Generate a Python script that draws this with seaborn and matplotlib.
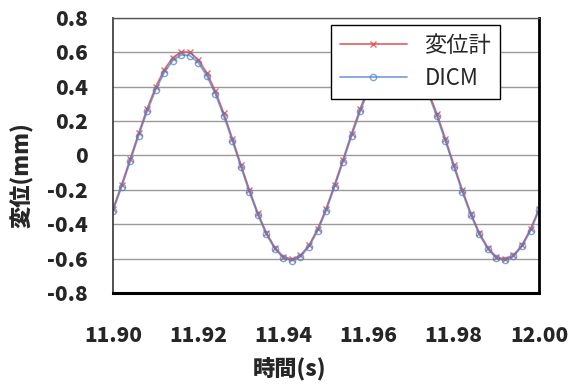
import numpy as np
import pandas as pd
import matplotlib
matplotlib.use('Agg')
import matplotlib.pyplot as plt
import seaborn as sns

# time axis, sampled every 2 ms
time = [11.900, 11.902, 11.904, 11.906, 11.908, 11.910, 11.912, 11.914, 11.916, 11.918,
        11.920, 11.922, 11.924, 11.926, 11.928, 11.930, 11.932, 11.934, 11.936, 11.938,
        11.940, 11.942, 11.944, 11.946, 11.948, 11.950, 11.952, 11.954, 11.956, 11.958,
        11.960, 11.962, 11.964, 11.966, 11.968, 11.970, 11.972, 11.974, 11.976, 11.978,
        11.980, 11.982, 11.984, 11.986, 11.988, 11.990, 11.992, 11.994, 11.996, 11.998,
        12.000]

# 変位計 (displacement gauge)
gauge = [-0.311, -0.172, -0.023, 0.128, 0.271, 0.397, 0.498, 0.568, 0.602, 0.600,
         0.557, 0.480, 0.374, 0.244, 0.098, -0.053, -0.201, -0.337, -0.451, -0.537,
         -0.590, -0.605, -0.582, -0.523, -0.430, -0.312, -0.171, -0.024, 0.127, 0.270,
         0.396, 0.497, 0.567, 0.601, 0.599, 0.556, 0.479, 0.373, 0.243, 0.097,
         -0.054, -0.202, -0.338, -0.452, -0.538, -0.591, -0.604, -0.581, -0.522, -0.429,
         -0.310]

# DICM
dicm = [-0.321, -0.183, -0.035, 0.115, 0.257, 0.382, 0.482, 0.551, 0.585, 0.581,
        0.540, 0.464, 0.359, 0.230, 0.086, -0.065, -0.212, -0.346, -0.459, -0.545,
        -0.597, -0.612, -0.589, -0.530, -0.439, -0.322, -0.182, -0.036, 0.114, 0.256,
        0.381, 0.481, 0.550, 0.584, 0.582, 0.541, 0.463, 0.358, 0.229, 0.085,
        -0.066, -0.213, -0.347, -0.460, -0.546, -0.598, -0.611, -0.588, -0.529, -0.438,
        -0.320]

yticks = [-0.8, -0.6, -0.4, -0.2, 0, 0.2, 0.4, 0.6, 0.8]
ytick_labels = ['-0.8', '-0.6', '-0.4', '-0.2', '0', '0.2', '0.4', '0.6', '0.8']
xticks = [11.90, 11.92, 11.94, 11.96, 11.98, 12.00]
xtick_labels = ['11.90', '11.92', '11.94', '11.96', '11.98', '12.00']

sns.set_style('white')
plt.rcParams['font.family'] = ['Noto Sans CJK JP', 'DejaVu Sans']

df = pd.DataFrame({'time': time, 'gauge': gauge, 'dicm': dicm})

fig, ax = plt.subplots(figsize=(5.71, 3.89), dpi=100)
fig.subplots_adjust(left=0.198, right=0.944, top=0.954, bottom=0.247)

red = '#E05050'
blue = '#4A7EC8'
sns.lineplot(data=df, x='time', y='gauge', ax=ax, color=red, lw=1.3,
             marker='x', markersize=4.5, markeredgewidth=1.0, markeredgecolor=red,
             label='変位計', alpha=0.85)
sns.lineplot(data=df, x='time', y='dicm', ax=ax, color=blue, lw=1.3,
             marker='o', markersize=4.5, markerfacecolor='none', markeredgecolor=blue,
             markeredgewidth=1.0, label='DICM', alpha=0.7)

ax.set_xlim(11.90, 12.00)
ax.set_ylim(-0.8, 0.8)
ax.set_yticks(yticks)
ax.set_yticklabels(ytick_labels)
ax.set_xticks(xticks)
ax.set_xticklabels(xtick_labels)
ax.tick_params(axis='y', length=0, pad=18, labelsize=15)
ax.tick_params(axis='x', length=0, pad=24, labelsize=15)
for lab in ax.get_xticklabels() + ax.get_yticklabels():
    lab.set_fontweight('heavy')

ax.yaxis.grid(True, color='#9a9a9a', lw=1.0)
ax.xaxis.grid(False)
ax.set_axisbelow(True)

ax.spines['bottom'].set_linewidth(2.2)
ax.spines['bottom'].set_color('black')
ax.spines['right'].set_linewidth(2.0)
ax.spines['right'].set_color('black')
ax.spines['left'].set_linewidth(1.2)
ax.spines['left'].set_color('#333333')
ax.spines['top'].set_linewidth(1.0)
ax.spines['top'].set_color('#555555')

ax.set_xlabel('時間(s)', fontsize=16, fontweight='heavy')
ax.set_ylabel('変位(mm)', fontsize=16, fontweight='heavy')
ax.xaxis.set_label_coords((289 - 113) / 426, (293 - 369) / 275)
ax.xaxis.label.set_va('center')
ax.yaxis.set_label_coords((22 - 113) / 426, (293 - 175) / 275)
ax.yaxis.label.set_va('center')

leg = ax.legend(loc='upper left', bbox_to_anchor=((331 - 113) / 426, (293 - 25) / 275),
                fontsize=16, frameon=True, fancybox=False, edgecolor='black',
                framealpha=1, borderpad=0.4, handlelength=3.0, labelspacing=0.45,
                borderaxespad=0)
leg.get_frame().set_linewidth(1.0)

fig.savefig('out.png', dpi=100)
